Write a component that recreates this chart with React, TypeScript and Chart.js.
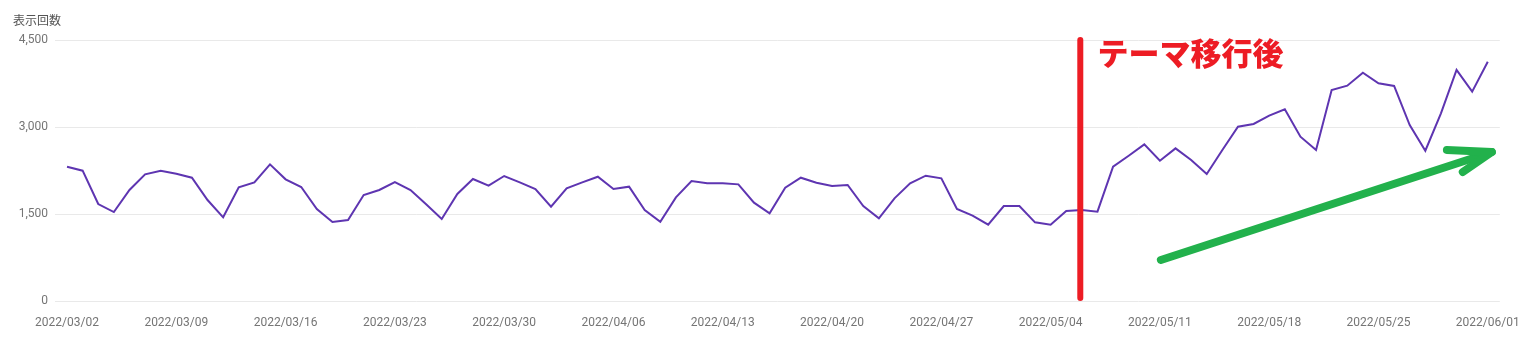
import React, { useEffect, useRef } from "react";
import { Chart, registerables } from "chart.js";

Chart.register(...registerables);

const impressions = [
  2315, 2247, 1672, 1534, 1914, 2184, 2247, 2195, 2126, 1741,
  1443, 1960, 2046, 2356, 2098, 1965, 1586, 1362, 1396, 1827,
  1914, 2051, 1914, 1667, 1414, 1845, 2103, 1988, 2155, 2046,
  1931, 1626, 1943, 2046, 2143, 1931, 1971, 1569, 1367, 1787,
  2069, 2029, 2029, 2011, 1695, 1512, 1954, 2126, 2040, 1983,
  2000, 1638, 1425, 1770, 2029, 2160, 2115, 1586, 1471, 1316,
  1638, 1638, 1356, 1316, 1552, 1569, 1540, 2316, 2505, 2701,
  2419, 2632, 2431, 2190, 2603, 3005, 3052, 3195, 3305, 2833,
  2603, 3638, 3712, 3936, 3753, 3707, 3034, 2591, 3236, 3983,
  3609, 4126,
];

const tickLabels = [
  "2022/03/02", "2022/03/09", "2022/03/16", "2022/03/23", "2022/03/30",
  "2022/04/06", "2022/04/13", "2022/04/20", "2022/04/27", "2022/05/04",
  "2022/05/11", "2022/05/18", "2022/05/25", "2022/06/01",
];
const tickEvery = 7;
const yTicks = [0, 1500, 3000, 4500];

const yTitle = "表示回数";
const noteText = "テーマ移行後";
// annotation positions in data units (day index, impressions)
const themeLine = { x: 64.9, yFrom: 4500, yTo: 50 };
const notePos = { x: 66.0, y: 4270 };
const arrowShaft = [ { x: 70.06, y: 707 }, { x: 91.26, y: 2569 } ];
const arrowHead = [ { x: 88.38, y: 2603 }, { x: 91.26, y: 2569 }, { x: 89.4, y: 2224 } ];

const annotationPlugin = {
  id: "annotations",
  afterDatasetsDraw(chart: any) {
    const { ctx, scales } = chart;
    const xs = scales.x;
    const ys = scales.y;
    const px = (v: number) => xs.getPixelForValue(v);
    const py = (v: number) => ys.getPixelForValue(v);
    ctx.save();
    ctx.lineCap = "round";
    ctx.lineJoin = "round";
    // red vertical line
    ctx.strokeStyle = "#ed1c24";
    ctx.lineWidth = 6;
    ctx.beginPath();
    ctx.moveTo(px(themeLine.x), py(themeLine.yFrom));
    ctx.lineTo(px(themeLine.x), py(themeLine.yTo));
    ctx.stroke();
    // text
    ctx.fillStyle = "#ed1c24";
    ctx.font = "900 31px 'Noto Sans CJK JP'";
    ctx.textBaseline = "middle";
    ctx.textAlign = "left";
    ctx.fillText(noteText, px(notePos.x), py(notePos.y));
    // green arrow
    ctx.strokeStyle = "#22b14c";
    ctx.lineWidth = 8;
    ctx.beginPath();
    ctx.moveTo(px(arrowShaft[0].x), py(arrowShaft[0].y));
    ctx.lineTo(px(arrowShaft[1].x), py(arrowShaft[1].y));
    ctx.stroke();
    ctx.beginPath();
    ctx.moveTo(px(arrowHead[0].x), py(arrowHead[0].y));
    ctx.lineTo(px(arrowHead[1].x), py(arrowHead[1].y));
    ctx.lineTo(px(arrowHead[2].x), py(arrowHead[2].y));
    ctx.stroke();
    ctx.restore();
  },
};

export default function App() {
  const canvasRef = useRef<HTMLCanvasElement | null>(null);

  useEffect(() => {
    if (!canvasRef.current) return;
    const chart = new Chart(canvasRef.current, {
      type: "line",
      data: {
        datasets: [
          {
            label: yTitle,
            data: impressions.map((v, i) => ({ x: i, y: v })),
            borderColor: "#5e35b1",
            borderWidth: 2,
            pointRadius: 0,
            tension: 0,
            fill: false,
          },
        ],
      },
      options: {
        animation: false,
        responsive: false,
        maintainAspectRatio: false,
        layout: { padding: { left: 0, right: 35, top: 40, bottom: 0 } },
        plugins: {
          legend: { display: false },
          tooltip: { enabled: false },
          title: { display: false },
        },
        scales: {
          x: {
            type: "linear",
            min: -0.77,
            max: impressions.length - 1 + 0.77,
            afterBuildTicks: (scale: any) => {
              scale.ticks = tickLabels.map((_, i) => ({ value: i * tickEvery }));
            },
            afterFit: (scale: any) => {
              scale.height = 50;
            },
            grid: { display: false, drawTicks: false },
            border: { display: false },
            ticks: {
              autoSkip: false,
              maxRotation: 0,
              padding: 15,
              color: "#757575",
              font: { family: "Roboto", size: 12 },
              callback: (v: any) => tickLabels[Math.round(Number(v) / tickEvery)] ?? "",
            },
          },
          y: {
            min: 0,
            max: 4500,
            afterBuildTicks: (scale: any) => {
              scale.ticks = yTicks.map((v) => ({ value: v }));
            },
            afterFit: (scale: any) => {
              scale.width = 55;
            },
            grid: { color: "#e9e9e9", lineWidth: 1, drawTicks: false },
            border: { display: false },
            ticks: {
              padding: 7,
              color: "#757575",
              font: { family: "Roboto", size: 12 },
              callback: (v: any) => Number(v).toLocaleString("en-US"),
            },
          },
        },
      },
      plugins: [annotationPlugin],
    } as any);
    return () => chart.destroy();
  }, []);

  return (
    <div style={{ position: "fixed", left: 0, top: 0, width: 1535, height: 351, background: "#fff" }}>
      <div
        style={{
          position: "absolute",
          left: 13,
          top: 12,
          fontFamily: "'Noto Sans CJK JP', Roboto, sans-serif",
          fontSize: 12,
          lineHeight: "16px",
          color: "#555",
        }}
      >
        {yTitle}
      </div>
      <canvas ref={canvasRef} width={1535} height={351} style={{ display: "block", width: 1535, height: 351 }} />
    </div>
  );
}
